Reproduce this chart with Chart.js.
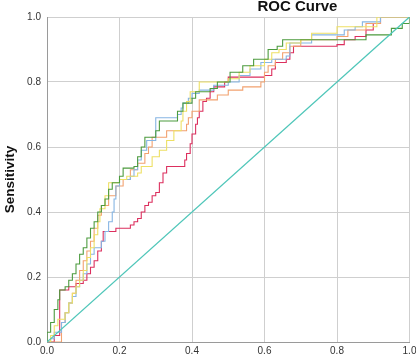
<!DOCTYPE html>
<html>
<head>
<meta charset="utf-8">
<script src="https://cdn.jsdelivr.net/npm/chart.js@4"></script>
<style>
  html, body { margin: 0; padding: 0; background: #fff; }
  #wrap { width: 416px; height: 356px; }
</style>
</head>
<body>
<div id="wrap"><canvas id="roc" width="416" height="356"></canvas></div>
<script>
// values: 1 - specificity (x) and sensitivity (y)
const tickValues = [0, 0.2, 0.4, 0.6, 0.8, 1.0];

const greenFpr = [0, 0, 0.01, 0.02, 0.03, 0.035, 0.05, 0.06, 0.07, 0.08, 0.09, 0.10, 0.11, 0.12, 0.13, 0.14, 0.15, 0.16, 0.17, 0.18, 0.20, 0.21, 0.24, 0.25, 0.26, 0.27, 0.30, 0.31, 0.36, 0.375, 0.40, 0.41, 0.45, 0.47, 0.505, 0.54, 0.57, 0.61, 0.635, 0.65, 0.88, 0.95, 0.98, 1.0];
const greenTpr = [0, 0.03, 0.06, 0.10, 0.13, 0.16, 0.17, 0.19, 0.21, 0.24, 0.27, 0.29, 0.32, 0.35, 0.37, 0.40, 0.42, 0.44, 0.47, 0.49, 0.51, 0.535, 0.54, 0.57, 0.60, 0.63, 0.65, 0.68, 0.71, 0.735, 0.75, 0.77, 0.78, 0.80, 0.83, 0.85, 0.87, 0.90, 0.91, 0.93, 0.945, 0.965, 0.98, 1.0];

const yellowFpr = [0, 0.01, 0.02, 0.03, 0.05, 0.06, 0.07, 0.08, 0.09, 0.10, 0.11, 0.12, 0.13, 0.14, 0.146, 0.16, 0.17, 0.20, 0.22, 0.25, 0.26, 0.29, 0.31, 0.33, 0.35, 0.37, 0.375, 0.385, 0.395, 0.42, 0.50, 0.53, 0.56, 0.60, 0.62, 0.64, 0.66, 0.70, 0.73, 0.80, 0.91, 1.0];
const yellowTpr = [0, 0.02, 0.05, 0.07, 0.09, 0.12, 0.15, 0.17, 0.19, 0.22, 0.26, 0.29, 0.33, 0.37, 0.41, 0.45, 0.49, 0.50, 0.51, 0.52, 0.54, 0.57, 0.59, 0.62, 0.65, 0.68, 0.71, 0.74, 0.77, 0.80, 0.81, 0.83, 0.85, 0.87, 0.89, 0.90, 0.92, 0.93, 0.95, 0.97, 1.0, 1.0];

const blueFpr = [0, 0.01, 0.02, 0.04, 0.05, 0.06, 0.07, 0.08, 0.09, 0.10, 0.11, 0.12, 0.13, 0.15, 0.16, 0.17, 0.18, 0.185, 0.19, 0.20, 0.23, 0.24, 0.25, 0.26, 0.275, 0.30, 0.36, 0.37, 0.375, 0.39, 0.40, 0.42, 0.46, 0.50, 0.53, 0.56, 0.59, 0.62, 0.66, 0.67, 0.73, 0.82, 0.85, 0.87, 0.92, 1.0];
const blueTpr = [0, 0.01, 0.03, 0.06, 0.09, 0.12, 0.14, 0.17, 0.19, 0.21, 0.24, 0.27, 0.29, 0.31, 0.34, 0.37, 0.40, 0.44, 0.48, 0.50, 0.51, 0.53, 0.56, 0.59, 0.62, 0.69, 0.70, 0.72, 0.735, 0.75, 0.765, 0.775, 0.79, 0.80, 0.82, 0.84, 0.86, 0.87, 0.88, 0.92, 0.945, 0.96, 0.97, 0.985, 1.0, 1.0];

const orangeFpr = [0, 0.04, 0.05, 0.06, 0.07, 0.08, 0.09, 0.10, 0.11, 0.12, 0.13, 0.14, 0.15, 0.17, 0.19, 0.21, 0.23, 0.25, 0.27, 0.28, 0.29, 0.33, 0.385, 0.39, 0.40, 0.42, 0.47, 0.50, 0.54, 0.59, 0.60, 0.61, 0.63, 0.65, 0.67, 0.70, 0.80, 0.83, 0.88, 0.92, 1.0];
const orangeTpr = [0, 0.06, 0.09, 0.12, 0.15, 0.19, 0.22, 0.25, 0.28, 0.31, 0.35, 0.39, 0.42, 0.45, 0.48, 0.50, 0.53, 0.55, 0.58, 0.60, 0.63, 0.65, 0.67, 0.69, 0.71, 0.745, 0.76, 0.775, 0.785, 0.80, 0.83, 0.85, 0.87, 0.89, 0.91, 0.93, 0.94, 0.96, 0.98, 1.0, 1.0];

const redFpr = [0, 0.02, 0.035, 0.06, 0.08, 0.10, 0.11, 0.12, 0.13, 0.14, 0.15, 0.155, 0.19, 0.23, 0.24, 0.25, 0.26, 0.27, 0.28, 0.29, 0.30, 0.31, 0.32, 0.33, 0.38, 0.385, 0.395, 0.40, 0.41, 0.415, 0.42, 0.43, 0.44, 0.45, 0.46, 0.49, 0.50, 0.60, 0.62, 0.63, 0.66, 0.67, 0.68, 0.80, 0.82, 0.85, 0.88, 0.90, 0.92, 1.0];
const redTpr = [0, 0.02, 0.16, 0.17, 0.18, 0.19, 0.21, 0.23, 0.25, 0.28, 0.31, 0.34, 0.35, 0.36, 0.37, 0.38, 0.40, 0.42, 0.43, 0.45, 0.46, 0.49, 0.52, 0.54, 0.56, 0.58, 0.61, 0.64, 0.67, 0.69, 0.71, 0.74, 0.75, 0.77, 0.785, 0.80, 0.815, 0.82, 0.84, 0.86, 0.87, 0.89, 0.91, 0.915, 0.93, 0.94, 0.96, 0.98, 1.0, 1.0];

const refFpr = [0, 1];
const refTpr = [0, 1];

const FONT = '"Liberation Sans", Arial, sans-serif';

function toPoints(xs, ys) {
    return xs.map((x, i) => ({ x: x, y: ys[i] }));
}

function rocSet(label, xs, ys, color) {
    return {
        label: label,
        data: toPoints(xs, ys),
        borderColor: color,
        borderWidth: 1.1,
        stepped: 'before',
        showLine: true,
        pointRadius: 0,
        fill: false
    };
}

// the title sits off-centre above the plot, so draw it by hand
const rocTitle = {
    id: 'rocTitle',
    afterDraw(chart) {
        const ctx = chart.ctx;
        ctx.save();
        ctx.font = 'bold 15px ' + FONT;
        ctx.fillStyle = '#111';
        ctx.textAlign = 'center';
        ctx.textBaseline = 'alphabetic';
        ctx.fillText('ROC Curve', chart.width * 0.715, 10.5);
        ctx.restore();
    }
};

new Chart(document.getElementById('roc'), {
    type: 'scatter',
    data: {
        datasets: [
            {
                label: 'Reference Line',
                data: toPoints(refFpr, refTpr),
                borderColor: '#4fc6b9',
                borderWidth: 1.3,
                showLine: true,
                pointRadius: 0
            },
            rocSet('Green', greenFpr, greenTpr, '#4c9b3e'),
            rocSet('Yellow', yellowFpr, yellowTpr, '#eee064'),
            rocSet('Blue', blueFpr, blueTpr, '#86b5e3'),
            rocSet('Orange', orangeFpr, orangeTpr, '#f2a16f'),
            rocSet('Red', redFpr, redTpr, '#dc2f5e')
        ]
    },
    options: {
        responsive: false,
        animation: false,
        layout: {
            padding: { top: 17, right: 6.5, left: 0, bottom: 0 }
        },
        plugins: {
            legend: { display: false },
            tooltip: { enabled: false }
        },
        scales: {
            x: {
                type: 'linear',
                min: 0,
                max: 1,
                afterBuildTicks: (scale) => {
                    scale.ticks = tickValues.map(v => ({ value: v }));
                },
                afterFit: (scale) => {
                    scale.height = 14;
                    scale.paddingLeft = 0;
                    scale.paddingRight = 0;
                },
                ticks: {
                    callback: (v) => v.toFixed(1),
                    font: { family: FONT, size: 10 },
                    color: '#333',
                    padding: 3,
                    maxRotation: 0,
                    autoSkip: false
                },
                grid: { color: '#cfcfcf', drawTicks: false },
                border: { color: '#9a9a9a' }
            },
            y: {
                type: 'linear',
                min: 0,
                max: 1,
                afterBuildTicks: (scale) => {
                    scale.ticks = tickValues.map(v => ({ value: v }));
                },
                afterFit: (scale) => {
                    scale.width = 47;
                    scale.paddingTop = 0;
                    scale.paddingBottom = 0;
                },
                ticks: {
                    callback: (v) => v.toFixed(1),
                    font: { family: FONT, size: 10 },
                    color: '#333',
                    padding: 6,
                    autoSkip: false
                },
                grid: { color: '#cfcfcf', drawTicks: false },
                border: { color: '#9a9a9a' },
                title: {
                    display: true,
                    text: 'Sensitivity',
                    font: { family: FONT, size: 13.5, weight: 'bold' },
                    color: '#111',
                    padding: { top: 2, bottom: 0 }
                }
            }
        }
    },
    plugins: [rocTitle]
});
</script>
</body>
</html>
